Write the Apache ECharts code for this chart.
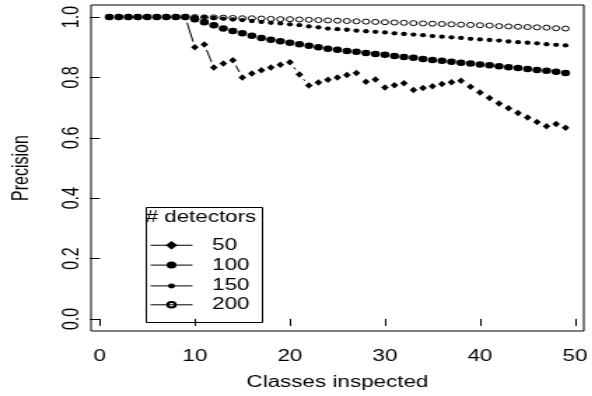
<!DOCTYPE html>
<html>
<head>
<meta charset="utf-8">
<script src="https://cdn.jsdelivr.net/npm/echarts@6/dist/echarts.min.js"></script>
<style>
  html, body { margin: 0; padding: 0; background: #fff; overflow: hidden; }
  /* the original figure is stretched sideways, so draw narrow and widen */
  #chart { width: 423px; height: 396px; transform: scaleX(1.4); transform-origin: 0 0; }
</style>
</head>
<body>
<div id="chart"></div>
<script>
const classes = [1, 2, 3, 4, 5, 6, 7, 8, 9, 10, 11, 12, 13, 14, 15, 16, 17, 18, 19, 20,
  21, 22, 23, 24, 25, 26, 27, 28, 29, 30, 31, 32, 33, 34, 35, 36, 37, 38, 39, 40,
  41, 42, 43, 44, 45, 46, 47, 48, 49];

const det50 = [1, 1, 1, 1, 1, 1, 1, 1, 1, 0.900, 0.909, 0.833, 0.846, 0.857, 0.800, 0.813,
  0.824, 0.833, 0.842, 0.850, 0.810, 0.773, 0.783, 0.792, 0.800, 0.808, 0.815, 0.786,
  0.793, 0.767, 0.774, 0.781, 0.758, 0.765, 0.771, 0.778, 0.784, 0.789, 0.769, 0.750,
  0.732, 0.714, 0.698, 0.682, 0.667, 0.652, 0.638, 0.646, 0.633];

const det100 = [1, 1, 1, 1, 1, 1, 1, 1, 1, 0.993, 0.983, 0.973, 0.962, 0.954, 0.946, 0.938,
  0.931, 0.925, 0.920, 0.915, 0.910, 0.905, 0.900, 0.895, 0.892, 0.888, 0.885, 0.881,
  0.878, 0.875, 0.871, 0.868, 0.865, 0.861, 0.858, 0.855, 0.852, 0.849, 0.846, 0.843,
  0.840, 0.837, 0.834, 0.831, 0.828, 0.825, 0.822, 0.819, 0.815];

const det150 = [1, 1, 1, 1, 1, 1, 1, 1, 1, 1, 1, 0.997, 0.995, 0.992, 0.990, 0.987,
  0.984, 0.981, 0.979, 0.976, 0.973, 0.969, 0.966, 0.962, 0.960, 0.958, 0.955, 0.953,
  0.951, 0.949, 0.946, 0.944, 0.942, 0.940, 0.937, 0.935, 0.933, 0.931, 0.928, 0.926,
  0.924, 0.922, 0.919, 0.917, 0.915, 0.913, 0.910, 0.908, 0.906];

const det200 = [1, 1, 1, 1, 1, 1, 1, 1, 1, 1, 0.999, 0.999, 0.998, 0.997, 0.996, 0.996,
  0.995, 0.994, 0.993, 0.993, 0.992, 0.991, 0.990, 0.989, 0.988, 0.987, 0.986, 0.985,
  0.984, 0.983, 0.982, 0.981, 0.980, 0.979, 0.978, 0.977, 0.976, 0.975, 0.974, 0.973,
  0.972, 0.970, 0.969, 0.968, 0.967, 0.966, 0.965, 0.963, 0.962];

const xTicks = [0, 10, 20, 30, 40, 50];
const yTicks = [0, 0.2, 0.4, 0.6, 0.8, 1.0];
const legendNames = ['50', '100', '150', '200'];

const FONT = "'Liberation Sans', Arial, sans-serif";
const GAP = 5.7; // R type="b": segments stop short of each point

const chart = echarts.init(document.getElementById('chart'));

function points(values) {
  return classes.map((c, i) => [c, values[i]]);
}
function segments(values) {
  const segs = [];
  for (let i = 0; i + 1 < values.length; i++) {
    segs.push([classes[i], values[i], classes[i + 1], values[i + 1]]);
  }
  return segs;
}
function renderGap(params, api) {
  const p1 = api.coord([api.value(0), api.value(1)]);
  const p2 = api.coord([api.value(2), api.value(3)]);
  const dx = p2[0] - p1[0], dy = p2[1] - p1[1];
  const d = Math.sqrt(dx * dx + dy * dy);
  if (d <= 2 * GAP) return null;
  const ux = dx / d, uy = dy / d;
  return {
    type: 'line',
    shape: { x1: p1[0] + ux * GAP, y1: p1[1] + uy * GAP, x2: p2[0] - ux * GAP, y2: p2[1] - uy * GAP },
    style: { stroke: '#000', lineWidth: 1 }
  };
}
function segSeries(values) {
  return {
    type: 'custom', silent: true, renderItem: renderGap,
    encode: { x: [0, 2], y: [1, 3] }, data: segments(values)
  };
}
function pointSeries(name, values, symbol, size, itemStyle) {
  return {
    name: name, type: 'line', data: points(values),
    symbol: symbol, symbolSize: size, showSymbol: true,
    lineStyle: { opacity: 0 }, itemStyle: itemStyle,
    emphasis: { disabled: true }, silent: true
  };
}

// one legend per entry, since the symbol sizes differ
const legendRows = [242.5, 261.5, 281, 300.3];
const legendHeights = [10.5, 8.8, 6.2, 7];
const legends = legendNames.map((n, i) => ({
  data: [n], left: 107, top: legendRows[i] - legendHeights[i] / 2,
  itemWidth: 30, itemHeight: legendHeights[i], padding: 0,
  selectedMode: false,
  lineStyle: { color: '#000', width: 1, opacity: 1, type: 'solid' },
  textStyle: { fontFamily: FONT, fontSize: 16, color: '#000', padding: [0, 0, 0, 9] }
}));

const option = {
  animation: false,
  backgroundColor: '#fff',
  grid: { left: 62, right: 6, top: 5, bottom: 57, show: true, borderColor: '#000', borderWidth: 1 },
  xAxis: {
    type: 'value', min: -0.92, max: 50.92,
    name: 'Classes inspected', nameLocation: 'middle', nameGap: 44,
    nameTextStyle: { fontFamily: FONT, fontSize: 16, color: '#000' },
    axisLine: { show: false },
    axisTick: { show: true, length: 7, customValues: xTicks, lineStyle: { color: '#000' } },
    axisLabel: { customValues: xTicks, fontFamily: FONT, fontSize: 16, color: '#000', margin: 18 },
    splitLine: { show: false }
  },
  yAxis: {
    type: 'value', min: -0.04, max: 1.04,
    name: 'Precision', nameLocation: 'middle', nameGap: 41,
    nameTextStyle: { fontFamily: FONT, fontSize: 16, color: '#000' },
    axisLine: { show: false },
    axisTick: { show: true, length: 7, customValues: yTicks, lineStyle: { color: '#000' } },
    axisLabel: {
      customValues: yTicks, rotate: 90, fontFamily: FONT, fontSize: 16, color: '#000', margin: 5,
      formatter: v => v.toFixed(1)
    },
    splitLine: { show: false }
  },
  legend: legends,
  graphic: [
    { type: 'rect', left: 102, top: 205, shape: { width: 83, height: 115 },
      style: { stroke: '#000', fill: 'none', lineWidth: 1 }, z: 100 },
    { type: 'text', x: 143.5, y: 217.5, z: 100,
      style: { text: '# detectors', font: '16px ' + FONT, fill: '#000',
        align: 'center', verticalAlign: 'middle' } }
  ],
  series: [
    segSeries(det50),
    pointSeries('50', det50, 'diamond', [5.5, 6.5], { color: '#000' }),
    segSeries(det100),
    pointSeries('100', det100, 'circle', 6.5, { color: '#000' }),
    segSeries(det150),
    pointSeries('150', det150, 'circle', 4.3, { color: '#000' }),
    segSeries(det200),
    pointSeries('200', det200, 'circle', 5, { color: 'rgba(0,0,0,0)', borderColor: '#000', borderWidth: 1 })
  ]
};

chart.setOption(option);
</script>
</body>
</html>
